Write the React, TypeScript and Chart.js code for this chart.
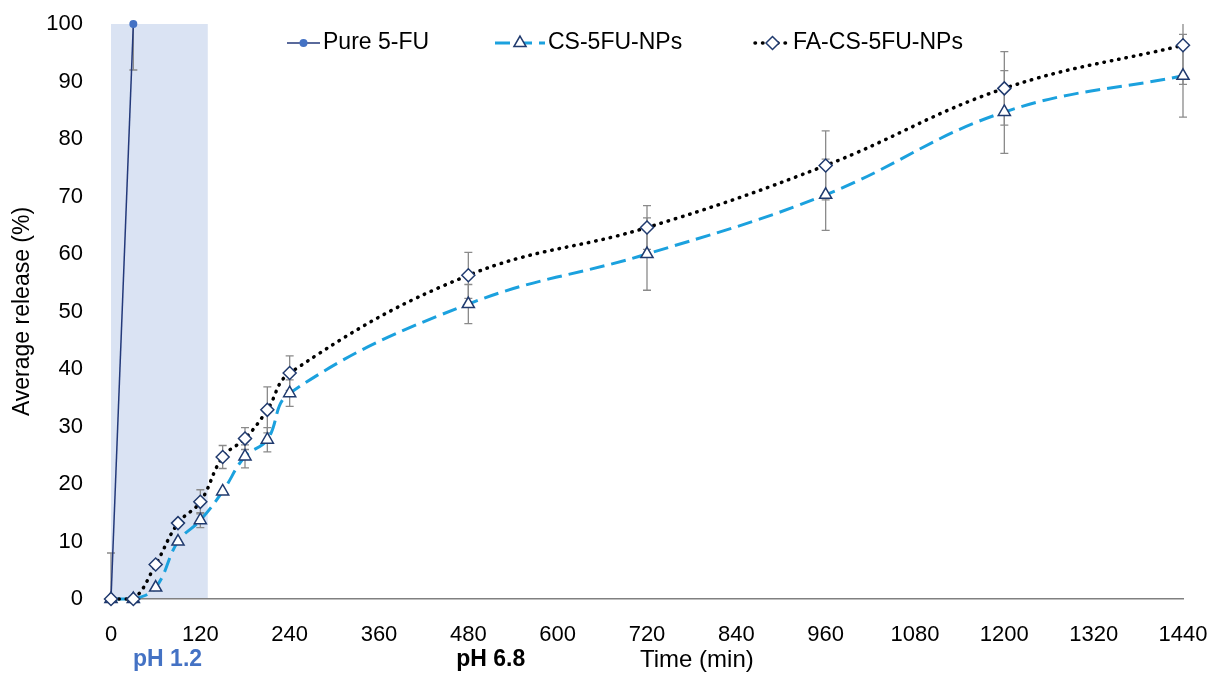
import React, { useEffect, useRef } from "react";
import { Chart, registerables } from "chart.js";

Chart.register(...registerables);

// ---------- data ----------
const TIMES = [0, 30, 60, 90, 120, 150, 180, 210, 240, 480, 720, 960, 1200, 1440];
const PURE_TIMES = [0, 30];
const PURE_VALUES = [0, 100];
const PURE_ERR = [8, 8];
const CS_VALUES = [0, 0, 2, 10, 13.7, 18.7, 24.8, 27.7, 35.8, 51.3, 60, 70.3, 84.7, 91];
const CS_ERR = [0, 0, 0, 0, 1.3, 0, 2, 2.1, 2.3, 3.4, 6.3, 6.2, 7.2, 7.2];
const FA_VALUES = [0, 0, 6, 13.2, 16.9, 24.7, 27.9, 32.9, 39.3, 56.3, 64.6, 75.4, 88.8, 96.3];
const FA_ERR = [0, 0, 0, 0, 2.1, 2, 1.9, 4, 3, 4, 3.8, 6, 6.4, 6.8];

const X_TICKS = [0, 120, 240, 360, 480, 600, 720, 840, 960, 1080, 1200, 1320, 1440];
const Y_TICKS = [0, 10, 20, 30, 40, 50, 60, 70, 80, 90, 100];
const SHADE_RANGE = [0, 130];

const SERIES_LABELS = ["Pure 5-FU", "CS-5FU-NPs", "FA-CS-5FU-NPs"];
const Y_TITLE = "Average release (%)";
const X_TITLE = "Time (min)";
const PHASE_LABELS = ["pH 1.2", "pH 6.8"];
const PHASE_LABEL_AT = [76, 510];
const X_TITLE_AT = 787;

// ---------- styles ----------
const FONT = "'Liberation Sans', Arial, sans-serif";
const PURE_LINE = "#23397A";
const PURE_DOT = "#4472C4";
const CS_LINE = "#1BA1DE";
const MARKER_EDGE = "#203A6E";
const ERR_COLOR = "#8A8A8A";
const SHADE_COLOR = "#DAE3F3";

const ERRORS = [PURE_ERR, CS_ERR, FA_ERR];

const toPoints = (xs: number[], ys: number[]) => xs.map((x, i) => ({ x, y: ys[i] }));

const shadePlugin = {
  id: "shade",
  beforeDraw(chart: any) {
    const { ctx, scales } = chart;
    const x = scales.x, y = scales.y;
    const x0 = x.getPixelForValue(SHADE_RANGE[0]);
    const x1 = x.getPixelForValue(SHADE_RANGE[1]);
    const y0 = y.getPixelForValue(100);
    const y1 = y.getPixelForValue(0);
    ctx.save();
    ctx.fillStyle = SHADE_COLOR;
    ctx.fillRect(x0, y0, x1 - x0, y1 - y0);
    ctx.restore();
  },
};

const errorBarPlugin = {
  id: "errorBars",
  beforeDatasetsDraw(chart: any) {
    const { ctx, scales } = chart;
    const xs = scales.x, ys = scales.y;
    ctx.save();
    ctx.strokeStyle = ERR_COLOR;
    ctx.lineWidth = 1.3;
    chart.data.datasets.forEach((ds: any, di: number) => {
      const errs = ERRORS[di];
      ds.data.forEach((p: any, j: number) => {
        const e = errs[j];
        if (!e) return;
        const px = xs.getPixelForValue(p.x);
        const hiV = p.y + e, loV = p.y - e;
        const top = ys.getPixelForValue(Math.min(100, hiV));
        const bot = ys.getPixelForValue(Math.max(0, loV));
        ctx.beginPath();
        ctx.moveTo(px, top);
        ctx.lineTo(px, bot);
        if (hiV <= 100) {
          ctx.moveTo(px - 4, top);
          ctx.lineTo(px + 4, top);
        }
        if (loV >= 0) {
          ctx.moveTo(px - 4, bot);
          ctx.lineTo(px + 4, bot);
        }
        ctx.stroke();
      });
    });
    ctx.restore();
  },
};

const drawMarker = (ctx: CanvasRenderingContext2D, style: string, x: number, y: number) => {
  if (style === "circle") {
    ctx.beginPath();
    ctx.arc(x, y, 4, 0, Math.PI * 2);
    ctx.fillStyle = PURE_DOT;
    ctx.fill();
    return;
  }
  ctx.beginPath();
  if (style === "triangle") {
    const r = 7;
    ctx.moveTo(x, y - r);
    ctx.lineTo(x + r * Math.sin((2 * Math.PI) / 3), y - r * Math.cos((2 * Math.PI) / 3));
    ctx.lineTo(x + r * Math.sin((4 * Math.PI) / 3), y - r * Math.cos((4 * Math.PI) / 3));
  } else {
    const r = 6.5;
    ctx.moveTo(x, y - r);
    ctx.lineTo(x + r, y);
    ctx.lineTo(x, y + r);
    ctx.lineTo(x - r, y);
  }
  ctx.closePath();
  ctx.fillStyle = "#fff";
  ctx.fill();
  ctx.lineWidth = 1.5;
  ctx.strokeStyle = MARKER_EDGE;
  ctx.stroke();
};

const annotationPlugin = {
  id: "annotations",
  afterDraw(chart: any) {
    const { ctx, scales, chartArea } = chart;
    const xs = scales.x;
    ctx.save();
    // y title
    ctx.fillStyle = "#000";
    ctx.font = `23px ${FONT}`;
    ctx.textAlign = "center";
    ctx.textBaseline = "middle";
    ctx.save();
    ctx.translate(23, (chartArea.top + chartArea.bottom) / 2);
    ctx.rotate(-Math.PI / 2);
    ctx.fillText(Y_TITLE, 0, 0);
    ctx.restore();

    // bottom labels
    const yb = 660;
    ctx.font = `bold 23px ${FONT}`;
    ctx.fillStyle = "#4472C4";
    ctx.fillText(PHASE_LABELS[0], xs.getPixelForValue(PHASE_LABEL_AT[0]), yb);
    ctx.fillStyle = "#000";
    ctx.fillText(PHASE_LABELS[1], xs.getPixelForValue(PHASE_LABEL_AT[1]), yb);
    ctx.font = `24px ${FONT}`;
    ctx.fillText(X_TITLE, xs.getPixelForValue(X_TITLE_AT), yb);

    // legend
    const ly = 43;
    const entries = [
      { x0: 287, x1: 320, style: "circle", label: SERIES_LABELS[0] },
      { x0: 495, x1: 545, style: "triangle", label: SERIES_LABELS[1] },
      { x0: 755, x1: 790, style: "diamond", label: SERIES_LABELS[2] },
    ];
    entries.forEach((en, i) => {
      ctx.save();
      ctx.beginPath();
      if (i === 0) {
        ctx.strokeStyle = PURE_LINE;
        ctx.lineWidth = 1.5;
        ctx.setLineDash([]);
      } else if (i === 1) {
        ctx.strokeStyle = CS_LINE;
        ctx.lineWidth = 3;
        ctx.setLineDash([15, 7]);
      } else {
        ctx.strokeStyle = "#000";
        ctx.lineWidth = 3.5;
        ctx.lineCap = "round";
        ctx.setLineDash([0.5, 7]);
      }
      ctx.moveTo(en.x0, ly);
      ctx.lineTo(en.x1, ly);
      ctx.stroke();
      ctx.restore();
      drawMarker(ctx, en.style, (en.x0 + en.x1) / 2, ly);
      ctx.fillStyle = "#000";
      ctx.font = `23px ${FONT}`;
      ctx.textAlign = "left";
      ctx.textBaseline = "middle";
      ctx.fillText(en.label, en.x1 + 3, ly);
    });
    ctx.restore();
  },
};

export default function App() {
  const canvasRef = useRef<HTMLCanvasElement | null>(null);

  useEffect(() => {
    const canvas = canvasRef.current;
    if (!canvas) return;
    const chart = new Chart(canvas, {
      type: "line",
      data: {
        datasets: [
          {
            label: SERIES_LABELS[0],
            data: toPoints(PURE_TIMES, PURE_VALUES),
            borderColor: PURE_LINE,
            borderWidth: 1.5,
            pointStyle: "circle",
            pointRadius: 4,
            pointBackgroundColor: PURE_DOT,
            pointBorderColor: PURE_DOT,
            pointBorderWidth: 0,
            tension: 0,
            clip: false,
            order: 3,
          },
          {
            label: SERIES_LABELS[1],
            data: toPoints(TIMES, CS_VALUES),
            borderColor: CS_LINE,
            borderWidth: 3,
            borderDash: [15, 7],
            pointStyle: "triangle",
            pointRadius: 7,
            pointBackgroundColor: "#fff",
            pointBorderColor: MARKER_EDGE,
            pointBorderWidth: 1.5,
            tension: 0.4,
            clip: false,
            order: 2,
          },
          {
            label: SERIES_LABELS[2],
            data: toPoints(TIMES, FA_VALUES),
            borderColor: "#000",
            borderWidth: 3.5,
            borderDash: [0.5, 7],
            borderCapStyle: "round",
            pointStyle: "rectRot",
            pointRadius: 6.5,
            pointBackgroundColor: "#fff",
            pointBorderColor: MARKER_EDGE,
            pointBorderWidth: 1.5,
            tension: 0.4,
            clip: false,
            order: 1,
          },
        ],
      },
      options: {
        animation: false,
        responsive: false,
        devicePixelRatio: 1,
        layout: { padding: { top: 24, right: 24, left: 0, bottom: 0 } },
        plugins: { legend: { display: false }, tooltip: { enabled: false } },
        scales: {
          x: {
            type: "linear",
            min: 0,
            max: 1440,
            grid: { display: false },
            border: { display: true, color: "#808080", width: 1.5 },
            ticks: {
              color: "#000",
              font: { family: FONT, size: 22 },
              padding: 15,
              maxRotation: 0,
              callback: (v: any) => String(v),
            },
            afterBuildTicks: (axis: any) => {
              axis.ticks = X_TICKS.map((v) => ({ value: v }));
            },
            afterFit: (axis: any) => {
              axis.height = 80;
              axis.paddingLeft = 0;
              axis.paddingRight = 0;
            },
          },
          y: {
            type: "linear",
            min: 0,
            max: 100,
            grid: { display: false },
            border: { display: false },
            ticks: {
              color: "#000",
              font: { family: FONT, size: 22 },
              padding: 20,
              callback: (v: any) => String(v),
            },
            afterBuildTicks: (axis: any) => {
              axis.ticks = Y_TICKS.map((v) => ({ value: v }));
            },
            afterFit: (axis: any) => {
              axis.width = 111;
              axis.paddingTop = 0;
              axis.paddingBottom = 0;
            },
          },
        },
      },
      plugins: [shadePlugin, errorBarPlugin, annotationPlugin],
    } as any);
    return () => chart.destroy();
  }, []);

  return (
    <div style={{ position: "absolute", left: 0, top: 0, width: 1207, height: 679, background: "#fff" }}>
      <canvas ref={canvasRef} width={1207} height={679} />
    </div>
  );
}
